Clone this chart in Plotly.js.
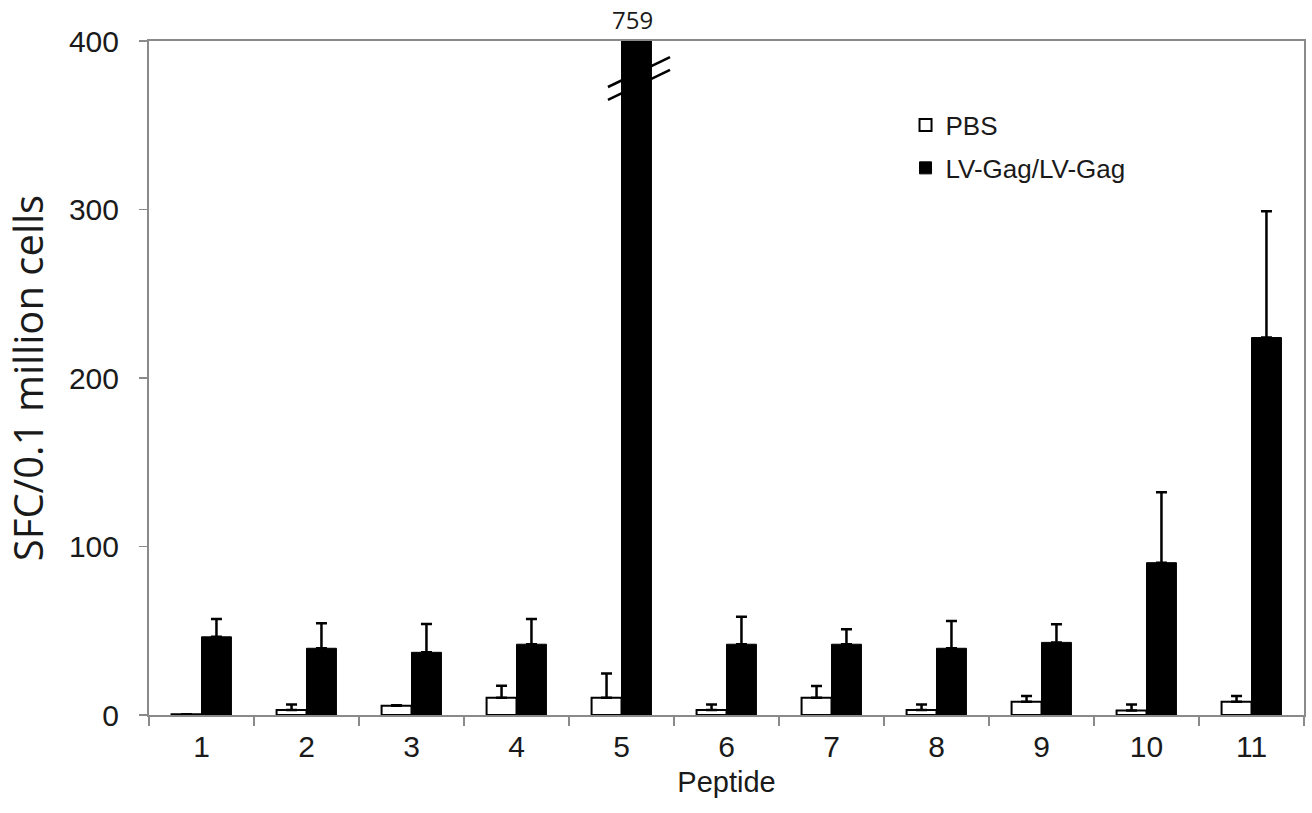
<!DOCTYPE html>
<html>
<head>
<meta charset="utf-8">
<script src="https://cdn.plot.ly/plotly-3.0.1.min.js"></script>
<style>html,body{margin:0;padding:0;background:#fff;}#chart{width:1312px;height:813px;}</style>
</head>
<body>
<div id="chart"></div>
<script>
var peptides = ["1","2","3","4","5","6","7","8","9","10","11"];
var pbsValues = [0.5, 3, 5.5, 10.3, 10.3, 3, 10.3, 3, 7.9, 2.6, 7.9];
var pbsErrors = [0, 3.3, 0.3, 7.1, 14.4, 3.3, 6.9, 3.3, 3.4, 3.7, 3.4];
var lvValues = [46.4, 39.6, 37.2, 42, 759, 42, 42, 39.6, 43.1, 90.4, 224];
var lvErrors = [10.6, 14.8, 16.8, 15, 0, 16.3, 8.9, 16.2, 10.7, 41.8, 75];
var seriesNames = ["PBS", "LV-Gag/LV-Gag"];
var breakLabel = "759";
var breakIndex = peptides.indexOf("5");

var txt = "#1a1a1a";
var axisGrey = "#8a8a8a";

var traces = [
  {
    type: "bar", name: seriesNames[0], x: peptides, y: pbsValues,
    marker: {color: "#ffffff", line: {color: "#000000", width: 2}},
    error_y: {type: "data", array: pbsErrors, symmetric: false, arrayminus: pbsValues.map(function(){return 0;}), color: "#000000", thickness: 2.5, width: 5.5},
    legendgroup: "a", cliponaxis: true
  },
  {
    type: "bar", name: seriesNames[1], x: peptides, y: lvValues,
    marker: {color: "#000000", line: {color: "#000000", width: 1}},
    error_y: {type: "data", array: lvErrors, symmetric: false, arrayminus: lvValues.map(function(){return 0;}), color: "#000000", thickness: 2.5, width: 5.5},
    legendgroup: "b", cliponaxis: true
  }
];

var layout = {
  width: 1312, height: 813,
  margin: {l: 149, r: 8, t: 41, b: 98},
  paper_bgcolor: "#ffffff", plot_bgcolor: "#ffffff",
  barmode: "group", bargap: 0.43, bargroupgap: 0,
  font: {family: "Liberation Sans, Arial, sans-serif", color: txt},
  showlegend: true,
  legend: {
    x: 0.655, y: 0.91, xanchor: "left", yanchor: "top",
    font: {size: 26, color: txt, family: "Liberation Sans, Arial, sans-serif"},
    bgcolor: "rgba(0,0,0,0)", traceorder: "grouped", tracegroupgap: 6,
    itemwidth: 30
  },
  xaxis: {
    type: "category",
    tickson: "boundaries",
    ticks: "outside", ticklen: 9, tickwidth: 1.5, tickcolor: axisGrey,
    showline: true, linecolor: axisGrey, linewidth: 2, mirror: true,
    showgrid: false, zeroline: false,
    tickfont: {size: 30, color: txt},
    ticklabelstandoff: 4,
    title: {text: "Peptide", font: {size: 29, color: txt}, standoff: 10},
    automargin: false
  },
  yaxis: {
    range: [0, 400],
    tickvals: [0, 100, 200, 300, 400],
    ticks: "outside", ticklen: 8, tickwidth: 1.5, tickcolor: axisGrey,
    showline: true, linecolor: axisGrey, linewidth: 2, mirror: true,
    showgrid: false, zeroline: false,
    tickfont: {size: 30, color: txt},
    ticklabelstandoff: 14,
    title: {text: "SFC/0.1 million cells", font: {size: 40, color: txt, family: "Open Sans, Noto Sans, sans-serif"}, standoff: 14},
    automargin: false
  },
  shapes: [
    {type: "line", xref: "x", yref: "y", x0: 3.871, y0: 372.7, x1: 4.462, y1: 390.5, layer: "below", line: {color: "#000000", width: 2.5}},
    {type: "line", xref: "x", yref: "y", x0: 3.871, y0: 365.0, x1: 4.462, y1: 382.8, layer: "below", line: {color: "#000000", width: 2.5}}
  ],
  annotations: [
    {x: breakIndex, y: 400, xref: "x", yref: "y", xshift: 11, yshift: 3, yanchor: "bottom", showarrow: false, text: breakLabel, font: {size: 24, color: txt, family: "Open Sans, Noto Sans, sans-serif"}}
  ]
};

Plotly.newPlot("chart", traces, layout, {displayModeBar: false, staticPlot: true});
</script>
</body>
</html>
